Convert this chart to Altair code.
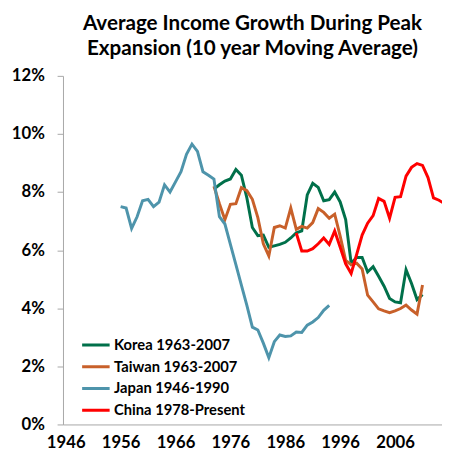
import altair as alt
import pandas as pd

# ---- data ----
series_names = ["Korea 1963-2007", "Taiwan 1963-2007", "Japan 1946-1990", "China 1978-Present"]
series_colors = ["#00704A", "#C8602A", "#4E94AB", "#FF0000"]

korea_years = list(range(1973, 2012))
korea_vals = [8.10, 8.25, 8.38, 8.45, 8.78, 8.58, 7.80, 6.78, 6.50, 6.52,
              6.10, 6.15, 6.20, 6.27, 6.42, 6.60, 6.66, 7.90, 8.30, 8.16,
              7.70, 7.74, 8.00, 7.66, 7.05, 5.55, 5.75, 5.75, 5.25, 5.43,
              5.10, 4.76, 4.34, 4.22, 4.19, 5.33, 4.85, 4.30, 4.47]

taiwan_years = list(range(1973, 2012))
taiwan_vals = [8.20, 7.60, 7.05, 7.58, 7.60, 8.15, 8.05, 7.75, 7.12, 6.22,
               5.80, 6.78, 6.84, 6.76, 7.45, 6.72, 6.82, 6.76, 6.95, 7.43,
               7.30, 7.10, 7.24, 6.48, 5.65, 5.50, 5.55, 5.35, 4.45, 4.22,
               3.98, 3.91, 3.85, 3.91, 3.99, 4.11, 3.94, 3.80, 4.80]

japan_years = list(range(1956, 1995))
japan_vals = [7.50, 7.45, 6.75, 7.15, 7.70, 7.75, 7.50, 7.65, 8.25, 8.00,
              8.35, 8.70, 9.30, 9.65, 9.40, 8.70, 8.58, 8.45, 7.15, 6.90,
              6.20, 5.50, 4.80, 4.10, 3.35, 3.25, 2.80, 2.30, 2.85, 3.08,
              3.03, 3.05, 3.18, 3.17, 3.42, 3.53, 3.68, 3.93, 4.10]

china_years = list(range(1988, 2016))
china_vals = [6.59, 5.97, 5.97, 6.05, 6.22, 6.42, 6.20, 6.66, 6.10, 5.53,
              5.20, 5.85, 6.52, 6.93, 7.19, 7.78, 7.68, 7.10, 7.82, 7.84,
              8.55, 8.85, 8.98, 8.92, 8.50, 7.80, 7.72, 7.60]

x_ticks = [1946, 1956, 1966, 1976, 1986, 1996, 2006]
y_ticks = [0, 2, 4, 6, 8, 10, 12]

rows = []
for name, yrs, vals in [
    (series_names[0], korea_years, korea_vals),
    (series_names[1], taiwan_years, taiwan_vals),
    (series_names[2], japan_years, japan_vals),
    (series_names[3], china_years, china_vals),
]:
    for yr, v in zip(yrs, vals):
        rows.append({"series": name, "year": yr, "value": v})
df = pd.DataFrame(rows)

FONT = "Lato"
AXIS_GRAY = "#A6A6A6"

chart = alt.Chart(df).mark_line(strokeWidth=3, clip=True).encode(
    x=alt.X(
        "year:Q",
        scale=alt.Scale(domain=[1945.5, 2014.55], nice=False, zero=False),
        axis=alt.Axis(
            values=x_ticks, format="d", ticks=False, grid=False, title=None,
            labelFont=FONT, labelFontSize=17, labelFontWeight="bold",
            labelColor="#000000", domainColor=AXIS_GRAY, domainWidth=1,
            labelPadding=10, labelFlush=False, labelOverlap=False,
        ),
    ),
    y=alt.Y(
        "value:Q",
        scale=alt.Scale(domain=[0, 12], nice=False),
        axis=alt.Axis(
            values=y_ticks, labelExpr="datum.value + '%'", grid=False, title=None,
            labelFont=FONT, labelFontSize=17, labelFontWeight="bold",
            labelColor="#000000", domainColor=AXIS_GRAY, tickColor=AXIS_GRAY,
            tickSize=6, labelPadding=13,
        ),
    ),
    color=alt.Color(
        "series:N",
        sort=series_names,
        scale=alt.Scale(domain=series_names, range=series_colors),
        legend=alt.Legend(
            title=None, orient="none", legendX=18, legendY=265,
            direction="vertical", symbolType="stroke", symbolSize=784,
            symbolStrokeWidth=3, labelFont=FONT, labelFontSize=15,
            labelFontWeight="bold", labelColor="#000000", labelOffset=3,
            padding=0, rowPadding=4.2, clipHeight=18,
        ),
    ),
    order=alt.Order("year:Q"),
).properties(
    width=386,
    height=355,
    title=alt.TitleParams(
        text=["Average Income Growth During Peak", "Expansion (10 year Moving Average)"],
        font=FONT, fontSize=21, fontWeight="bold", color="#000000",
        lineHeight=26, anchor="middle", frame="group", offset=8,
    ),
    padding={"left": 56, "top": 65, "right": 0, "bottom": 28},
    autosize=alt.AutoSizeParams(type="none"),
).configure_view(stroke=None)

chart.save("out.html", embed_options={"renderer": "svg", "actions": False})
